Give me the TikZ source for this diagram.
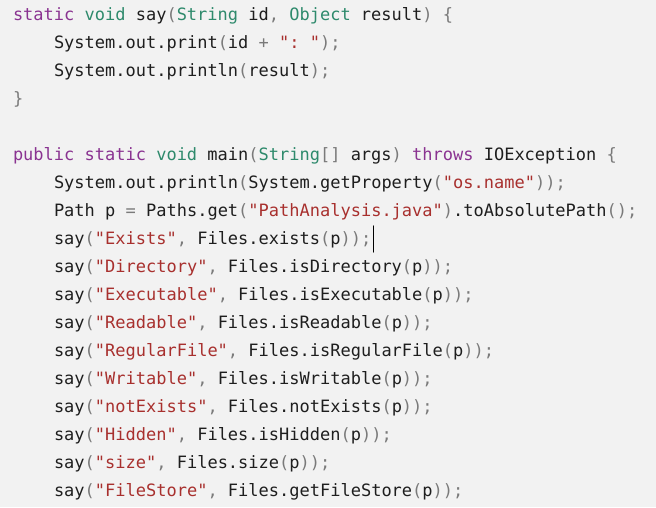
\documentclass[tikz,border=0pt]{standalone}
\usepackage{fontspec}
\setmonofont{DejaVu Sans Mono}
\definecolor{codebg}{HTML}{F2F2F2}
\definecolor{codetext}{HTML}{1E1E1E}
\definecolor{kwcol}{HTML}{8A3391}
\definecolor{tycol}{HTML}{2E8A6C}
\definecolor{strcol}{HTML}{A8302E}
\definecolor{pucol}{HTML}{7A7A7A}
\newcommand{\kw}[1]{\textcolor{kwcol}{#1}}
\newcommand{\ty}[1]{\textcolor{tycol}{#1}}
\newcommand{\strg}[1]{\textcolor{strcol}{#1}}
\newcommand{\pu}[1]{\textcolor{pucol}{#1}}
\tikzset{codeline/.style={anchor=base west, inner sep=0pt, outer sep=0pt, text=codetext,
    font=\ttfamily\frenchspacing\fontsize{17}{20}\selectfont}}
\begin{document}
\begin{tikzpicture}[x=1pt, y=-1pt, line cap=round]
		\def\picw{656} \def\pich{507}
		\def\xa{13} \def\xb{54}
		\fill[codebg] (0,0) rectangle (\picw,\pich);
		\useasboundingbox (0,0) rectangle (\picw,\pich);
		% method say
		\node[codeline] (l1) at (\xa,20) {\kw{static} \ty{void} say\pu{(}\ty{String} id\pu{,} \ty{Object} result\pu{)} \pu{\{}};
		\node[codeline] (l2) at (\xb,48) {System.out.print\pu{(}id \pu{+} \strg{": "}\pu{);}};
		\node[codeline] (l3) at (\xb,76) {System.out.println\pu{(}result\pu{);}};
		\node[codeline] (l4) at (\xa,104) {\pu{\}}};
		% method main
		\node[codeline] (l5) at (\xa,160) {\kw{public} \kw{static} \ty{void} main\pu{(}\ty{String}\pu{[]} args\pu{)} \kw{throws} IOException \pu{\{}};
		\node[codeline] (l6) at (\xb,188) {System.out.println\pu{(}System.getProperty\pu{(}\strg{"os.name"}\pu{));}};
		\node[codeline] (l7) at (\xb,216) {Path p \pu{=} Paths.get\pu{(}\strg{"PathAnalysis.java"}\pu{)}.toAbsolutePath\pu{();}};
		\foreach \lbl/\fn [count=\k] in {Exists/exists, Directory/isDirectory, Executable/isExecutable,
			Readable/isReadable, RegularFile/isRegularFile, Writable/isWritable, notExists/notExists,
			Hidden/isHidden, size/size, FileStore/getFileStore}
		\node[codeline] (say\k) at (\xb,216+28*\k) {say\pu{(}\strg{"\lbl"}\pu{,} Files.\fn\pu{(}p\pu{));}};
		% text cursor
		\draw[black, line width=1.3pt] (say1.base east) ++(2,-18) -- ++(0,26);
\end{tikzpicture}
\end{document}
